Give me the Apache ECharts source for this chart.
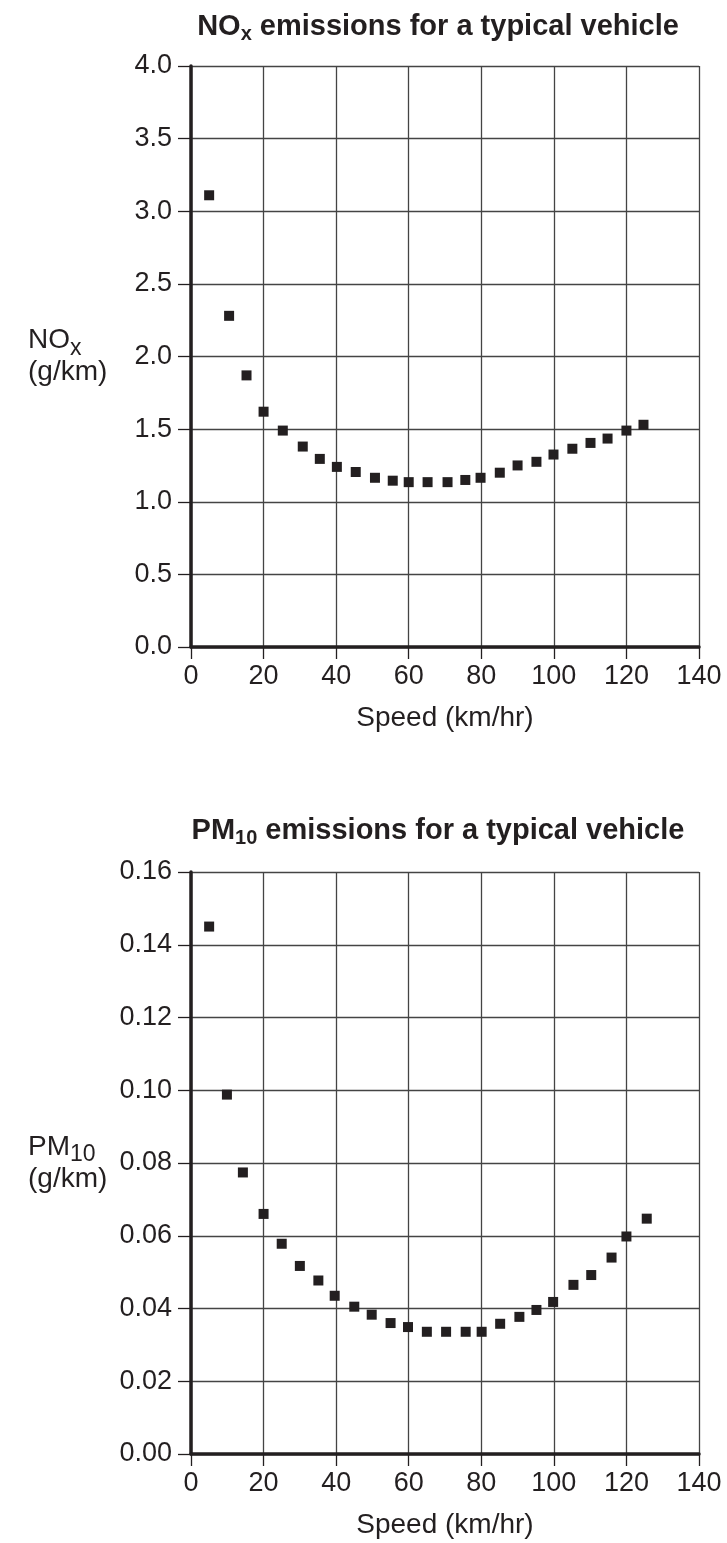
<!DOCTYPE html>
<html>
<head>
<meta charset="utf-8">
<title>Emissions vs speed</title>
<script src="https://cdn.jsdelivr.net/npm/echarts@6/dist/echarts.min.js"></script>
<style>
  html, body { margin: 0; padding: 0; background: #fff; }
  #chart { width: 727px; height: 1543px; }
</style>
</head>
<body>
<div id="chart"></div>
<script>
// 数据
const speedTicks = [0, 20, 40, 60, 80, 100, 120, 140];

const noxSpeed = [5, 10.5, 15.3, 20, 25.3, 30.8, 35.5, 40.2, 45.4, 50.7, 55.6, 60, 65.2,
    70.7, 75.6, 79.8, 85.1, 90, 95.2, 99.9, 105.1, 110.1, 114.8, 120, 124.7];
const noxValues = [3.11, 2.28, 1.87, 1.62, 1.49, 1.38, 1.295, 1.24, 1.205, 1.165, 1.145, 1.135, 1.135,
    1.135, 1.15, 1.165, 1.2, 1.25, 1.275, 1.325, 1.365, 1.405, 1.435, 1.49, 1.53];

const pmSpeed = [5, 9.9, 14.3, 20, 25, 30, 35.1, 39.6, 45, 49.8, 55, 59.8, 65,
    70.3, 75.7, 80.1, 85.2, 90.5, 95.2, 99.8, 105.4, 110.3, 115.9, 120, 125.6];
const pmValues = [0.145, 0.0988, 0.0774, 0.066, 0.0578, 0.0517, 0.0477, 0.0435, 0.0405, 0.0383, 0.036, 0.0349, 0.0336,
    0.0336, 0.0336, 0.0336, 0.0358, 0.0377, 0.0396, 0.0418, 0.0465, 0.0492, 0.054, 0.0598, 0.0647];

const noxAxis = [0, 4.0, 0.5];     // min, max, interval
const pmAxis = [0, 0.16, 0.02];

const ink = '#231f20';
const font = '"Liberation Sans", Arial, sans-serif';

document.addEventListener('DOMContentLoaded', function () {
    const chart = echarts.init(document.getElementById('chart'));

    function pairs(xs, ys) {
        return xs.map(function (x, i) { return [x, ys[i]]; });
    }

    function xAxisFor(gridIndex) {
        return {
            type: 'value',
            gridIndex: gridIndex,
            min: speedTicks[0],
            max: speedTicks[speedTicks.length - 1],
            interval: speedTicks[1] - speedTicks[0],
            name: 'Speed (km/hr)',
            nameLocation: 'middle',
            nameGap: 57,
            nameTextStyle: { color: ink, fontSize: 28, fontFamily: font },
            axisLine: { show: true, onZero: false, lineStyle: { color: ink, width: 3.5 } },
            axisTick: { show: true, length: 12, lineStyle: { color: ink, width: 1.3 } },
            axisLabel: { color: ink, fontSize: 27, fontFamily: font, margin: 16, showMinLabel: true, showMaxLabel: true },
            splitLine: { show: true, lineStyle: { color: '#444', width: 1.3 } }
        };
    }

    function yAxisFor(gridIndex, range, digits, nameText) {
        return {
            type: 'value',
            gridIndex: gridIndex,
            min: range[0],
            max: range[1],
            interval: range[2],
            name: nameText,
            nameLocation: 'middle',
            nameRotate: 0,
            nameGap: 163,
            nameTextStyle: {
                align: 'left',
                verticalAlign: 'middle',
                rich: {
                    a: { fontSize: 28, fontFamily: font, color: ink, lineHeight: 32 },
                    // subscript: short token box pushed to the line bottom
                    s: { fontSize: 23, fontFamily: font, color: ink, height: 16, lineHeight: 16, verticalAlign: 'bottom' }
                }
            },
            axisLine: { show: true, onZero: false, lineStyle: { color: ink, width: 3.5 } },
            axisTick: { show: true, length: 13, lineStyle: { color: ink, width: 1.3 } },
            axisLabel: {
                color: ink, fontSize: 27, fontFamily: font, margin: 19,
                showMinLabel: true, showMaxLabel: true,
                formatter: function (v) { return v.toFixed(digits); }
            },
            splitLine: { show: true, lineStyle: { color: '#444', width: 1.3 } }
        };
    }

    function titleFor(top, main, sub, rest) {
        return {
            text: '{a|' + main + '}{s|' + sub + '}{a|' + rest + '}',
            left: 433,
            top: top,
            textAlign: 'center',
            textStyle: {
                rich: {
                    a: { fontSize: 29, fontWeight: 'bold', fontFamily: font, color: ink, lineHeight: 32 },
                    s: { fontSize: 20, fontWeight: 'bold', fontFamily: font, color: ink, height: 18, lineHeight: 18, verticalAlign: 'bottom' }
                }
            }
        };
    }

    const option = {
        backgroundColor: '#fff',
        animation: false,
        title: [
            titleFor(6, 'NO', 'x', ' emissions for a typical vehicle'),
            titleFor(810, 'PM', '10', ' emissions for a typical vehicle')
        ],
        grid: [
            { left: 191, top: 66, width: 508, height: 581 },
            { left: 191, top: 872, width: 508, height: 582 }
        ],
        xAxis: [xAxisFor(0), xAxisFor(1)],
        yAxis: [
            yAxisFor(0, noxAxis, 1, '{a|NO}{s|x}\n{a|(g/km)}'),
            yAxisFor(1, pmAxis, 2, '{a|PM}{s|10}\n{a|(g/km)}')
        ],
        series: [
            {
                name: 'NOx',
                type: 'scatter',
                xAxisIndex: 0,
                yAxisIndex: 0,
                symbol: 'rect',
                symbolSize: 10,
                itemStyle: { color: ink, opacity: 1 },
                data: pairs(noxSpeed, noxValues)
            },
            {
                name: 'PM10',
                type: 'scatter',
                xAxisIndex: 1,
                yAxisIndex: 1,
                symbol: 'rect',
                symbolSize: 10,
                itemStyle: { color: ink, opacity: 1 },
                data: pairs(pmSpeed, pmValues)
            }
        ]
    };
    chart.setOption(option);
});
</script>
</body>
</html>
